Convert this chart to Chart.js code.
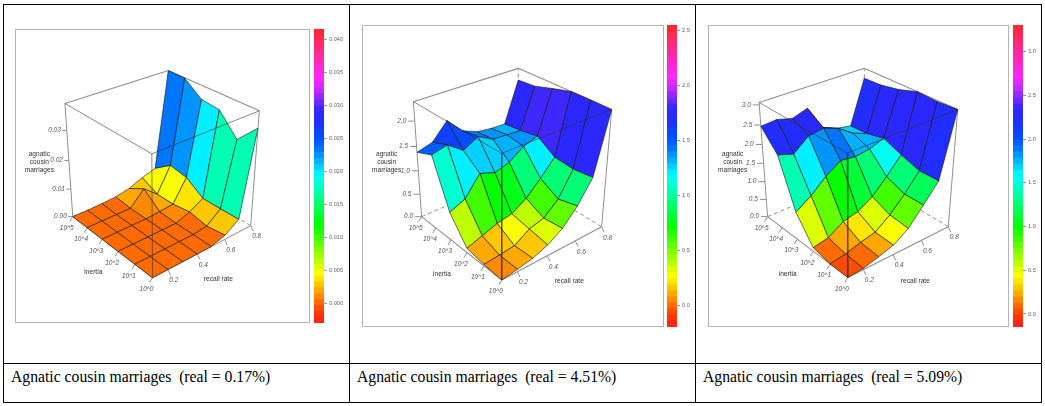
<!DOCTYPE html>
<html>
<head>
<meta charset="utf-8">
<script src="https://cdn.jsdelivr.net/npm/chart.js@4"></script>
<style>
html,body{margin:0;padding:0;background:#fff;width:1045px;height:406px;overflow:hidden}
.line{position:absolute;background:#000}
.cap{position:absolute;top:368px;font:15.7px "Liberation Serif",serif;color:#000;white-space:pre}
.frame{position:absolute;border:1.5px solid #b4b4b4;box-sizing:border-box}
canvas{position:absolute;filter:blur(.35px)}
</style>
</head>
<body>
<script>
const recallRates = [0.1,0.2,0.3,0.4,0.5,0.6,0.7,0.8];
const inertiaLabels = ['10^0','10^1','10^2','10^3','10^4','10^5'];
const recallTicks = [0.2,0.4,0.6,0.8];
const captions = ['Agnatic cousin marriages  (real = 0.17%)','Agnatic cousin marriages  (real = 4.51%)','Agnatic cousin marriages  (real = 5.09%)'];

// rows = recall rate, columns = inertia
const values1 = [
  [0,0,0,0,0,0],
  [0,0,0,0,0,0],
  [0,0,0,0,0,0.0002],
  [0,0,0,0,0,0.0005],
  [0,0,0,0.0003,0.005,0.0015],
  [0.0015,0.0006,0.0018,0.0008,0.0008,0.0035],
  [0.0047,0.0045,0.0045,0.0085,0.0095,0.005],
  [0.0332,0.0265,0.0333,0.034,0.0385,0.0386]
];
const values2 = [
  [0,0.03,0.09,0.59,1.53,1.38],
  [0.05,0.06,0.20,0.73,1.61,1.47],
  [0.11,0.10,0.31,1.12,1.38,1.80],
  [0.23,0.30,0.37,1.01,1.55,1.48],
  [0.42,0.38,0.56,1.10,1.38,1.35],
  [0.74,0.64,0.85,1.31,1.36,1.31],
  [1.18,1.13,1.17,1.41,1.34,1.30],
  [2.36,2.37,2.37,2.27,2.16,2.13]
];
const values3 = [
  [0,0,0.10,0.75,1.98,2.47],
  [0.03,0.07,0.18,1.02,1.85,2.50],
  [0.14,0.19,0.44,1.37,2.17,2.39],
  [0.26,0.28,0.53,1.63,2.23,2.52],
  [0.52,0.57,0.77,1.58,2.08,1.87],
  [0.97,0.96,1.15,1.63,1.81,1.71],
  [1.43,1.42,1.58,1.77,1.66,1.63],
  [3.06,3.03,3.06,2.91,2.82,2.80]
];

const zTicks1 = [0,0.01,0.02,0.03];
const zTicks2 = [0,0.5,1,1.5,2];
const zTicks3 = [0,0.5,1,1.5,2,2.5,3];

const panels = [
  {off:0, frame:[15,29,310,323], bar:[314,29,324,323], range:[-0.0029,0.04156], step:0.005, dec:3, zDec:2, zMax:0.0386, zTicks:zTicks1, values:values1, zTick:4.5, zLab:6,
   corners:{L:[218,650],F:[458,833],R:[752,677],LT:[195,310],FT:[455,462],RT:[778,332],BT:[505,212]},
   titles:{inertia:[280,818],recall:[655,838],z:[118,462]}},
  {off:350, frame:[362,25,664,327], bar:[667,25,677,327], range:[-0.197,2.549], step:0.5, dec:1, zDec:1, zMax:2.37, zTicks:zTicks2, values:values2, zTick:6.5, zLab:8.5,
   corners:{L:[215,650],F:[455,840],R:[755,680],LT:[190,305],FT:[455,460],RT:[785,328],BT:[505,205]},
   titles:{inertia:[276,822],recall:[658,845],z:[110,462]}},
  {off:695, frame:[708,25,1009,327], bar:[1013,25,1023,327], range:[-0.149,3.305], step:0.5, dec:1, zDec:1, zMax:3.06, zTicks:zTicks3, values:values3, zTick:6.5, zLab:8.5,
   corners:{L:[218,650],F:[458,832],R:[760,680],LT:[192,307],FT:[457,460],RT:[788,328],BT:[508,205]},
   titles:{inertia:[278,822],recall:[661,845],z:[113,462]}}
];

const BANDS = 50;
function bandColor(z, range) {
  let t = (z - range[0]) / (range[1] - range[0]);
  let k = Math.min(BANDS - 1, Math.max(0, Math.floor(t * BANDS)));
  let h = (k + 0.5) / BANDS * 360;
  // the palette stays blue for longer than a plain hue wheel
  if (h > 215 && h <= 262) h = 215 + (h - 215) * 30 / 47;
  else if (h > 262 && h < 285) h = 245 + (h - 262) * 40 / 23;
  const f = n => { const a = (n + h / 60) % 6; return 255 * (1 - Math.max(0, Math.min(a, 4 - a, 1))); };
  // blues and reds are not fully saturated
  let lift = 0;
  if (h >= 220) lift = 40 * Math.min(1, (h - 220) / 20);
  else if (h < 15) lift = 30 * (1 - h / 15);
  const ch = n => Math.round(lift + f(n) * (255 - lift) / 255);
  return 'rgb(' + ch(5) + ',' + ch(3) + ',' + ch(1) + ')';
}

// least squares fit of a 3x4 perspective matrix to the box corners
function fitProjection(c) {
  const pairs = [[[0,1,0],c.L],[[0,0,0],c.F],[[1,0,0],c.R],[[0,1,1],c.LT],[[0,0,1],c.FT],[[1,0,1],c.RT],[[1,1,1],c.BT]];
  const A = [], b = [];
  pairs.forEach(([p,q]) => {
    const [u,v,w] = p, [x,y] = q;
    A.push([u,v,w,1,0,0,0,0,-x*u,-x*v,-x*w]); b.push(x);
    A.push([0,0,0,0,u,v,w,1,-y*u,-y*v,-y*w]); b.push(y);
  });
  const n = 11, M = [];
  for (let i = 0; i < n; i++) {
    M.push([]);
    for (let j = 0; j < n; j++) M[i].push(A.reduce((s,r) => s + r[i]*r[j], 0));
    M[i].push(A.reduce((s,r,k) => s + r[i]*b[k], 0));
  }
  for (let i = 0; i < n; i++) {
    let best = i;
    for (let k = i + 1; k < n; k++) if (Math.abs(M[k][i]) > Math.abs(M[best][i])) best = k;
    [M[i], M[best]] = [M[best], M[i]];
    for (let k = 0; k < n; k++) {
      if (k === i) continue;
      const f = M[k][i] / M[i][i];
      for (let j = i; j <= n; j++) M[k][j] -= f * M[i][j];
    }
  }
  return M.map((r,i) => r[n] / r[i]);
}

function el(tag, cls, style) {
  const e = document.createElement(tag);
  if (cls) e.className = cls;
  Object.assign(e.style, style || {});
  document.body.appendChild(e);
  return e;
}

// table rules
[[3,4,1039,1],[3,363,1039,1],[3,402,1039,1],[3,4,1,399],[349,4,1,399],[695,4,1,399],[1041,4,1,399]].forEach(r => {
  el('div','line',{left:r[0]+'px',top:r[1]+'px',width:r[2]+'px',height:r[3]+'px'});
});
[11,357,703].forEach((x,i) => { el('div','cap',{left:x+'px'}).textContent = captions[i]; });

panels.forEach((pn, idx) => {
  const cz = {};
  Object.keys(pn.corners).forEach(k => { cz[k] = [pn.off + pn.corners[k][0]/3, pn.corners[k][1]/3]; });
  const m = fitProjection(cz);
  const P = (u,v,w) => {
    const d = m[8]*u + m[9]*v + m[10]*w + 1;
    return {x:(m[0]*u + m[1]*v + m[2]*w + m[3])/d, y:(m[4]*u + m[5]*v + m[6]*w + m[7])/d};
  };
  const uOf = r => (r - recallRates[0]) / (recallRates[recallRates.length-1] - recallRates[0]);
  const vOf = i => i / (inertiaLabels.length - 1);
  const vals = pn.values;

  const w = pn.frame[2]-pn.frame[0], h = pn.frame[3]-pn.frame[1];
  el('div','frame',{left:pn.frame[0]+'px',top:pn.frame[1]+'px',width:w+'px',height:h+'px'});
  const cv = el('canvas','',{left:pn.frame[0]+'px',top:pn.frame[1]+'px'});
  cv.width = w; cv.height = h;

  const ds = [];
  const seg = (pts, color, width, dash) => ds.push({data:pts, borderColor:color, borderWidth:width||1, borderDash:dash||[], showLine:true, pointRadius:0, fill:false, tension:0});
  const gray = '#8f8f8f';
  const B = P(1,1,0), BT = P(1,1,1), L = P(0,1,0), F = P(0,0,0), R = P(1,0,0), LT = P(0,1,1), FT = P(0,0,1), RT = P(1,0,1);
  // back of the box first
  seg([L,B],gray,1,[4,3]); seg([R,B],gray,1,[4,3]); seg([B,BT],gray,1,[4,3]);
  seg([LT,BT],gray,1.1); seg([BT,RT],gray,1.1);
  seg([L,LT],gray,1); seg([R,RT],gray,1);
  seg([L,F],gray,1.1); seg([F,R],gray,1.1);
  // ticks
  inertiaLabels.forEach((t,i) => { const p = P(0,vOf(i),0); seg([p,{x:p.x-3,y:p.y+5}],gray,1); });
  recallTicks.forEach(r => { const p = P(uOf(r),0,0); seg([p,{x:p.x+2.5,y:p.y+5.5}],gray,1); });
  pn.zTicks.forEach(z => { const p = P(0,1,z/pn.zMax); seg([{x:p.x-pn.zTick,y:p.y},p],gray,1); });
  // surface, far cells first
  for (let r = recallRates.length-2; r >= 0; r--) {
    for (let i = inertiaLabels.length-2; i >= 0; i--) {
      const cell = [[r,i],[r+1,i],[r+1,i+1],[r,i+1],[r,i]];
      const mean = (vals[r][i]+vals[r+1][i]+vals[r+1][i+1]+vals[r][i+1])/4;
      ds.push({
        data: cell.map(c => P(uOf(recallRates[c[0]]), vOf(c[1]), vals[c[0]][c[1]]/pn.zMax)),
        borderColor:'rgba(20,20,20,.75)', borderWidth:0.8,
        backgroundColor:bandColor(mean,pn.range), fill:'shape',
        showLine:true, pointRadius:0, tension:0
      });
    }
  }
  // front of the box over the surface
  const front = 'rgba(40,40,40,.55)';
  seg([LT,FT],front,1); seg([FT,RT],front,1); seg([FT,F],front,1);
  ds.forEach((d,k) => { d.order = ds.length - k; });

  const labels = {
    id:'labels'+idx,
    afterDatasetsDraw(chart) {
      const c = chart.ctx, sx = chart.scales.x, sy = chart.scales.y;
      const text = (s,x,y,font,color,align) => {
        c.font = font; c.fillStyle = color; c.textAlign = align||'center'; c.textBaseline = 'middle';
        c.fillText(s, sx.getPixelForValue(x), sy.getPixelForValue(y));
      };
      const tickFont = 'italic 6.5px "Liberation Sans"', titleFont = '6.6px "Liberation Sans"';
      inertiaLabels.forEach((t,i) => { const p = P(0,vOf(i),0); text(t,p.x-6,p.y+11.5,tickFont,'#555'); });
      recallTicks.forEach(r => { const p = P(uOf(r),0,0); text(r.toFixed(1),p.x+6,p.y+11,tickFont,'#555'); });
      pn.zTicks.forEach(z => { const p = P(0,1,z/pn.zMax); text(z.toFixed(pn.zDec),p.x-pn.zLab,p.y,tickFont,'#555','right'); });
      const t = pn.titles, o = pn.off;
      text('inertia',o+t.inertia[0]/3,t.inertia[1]/3,titleFont,'#333');
      text('recall rate',o+t.recall[0]/3,t.recall[1]/3,titleFont,'#333');
      ['agnatic','cousin','marriages'].forEach((s,k) => text(s,o+t.z[0]/3,t.z[1]/3+k*8,titleFont,'#333'));
    }
  };

  new Chart(cv, {
    type:'scatter',
    data:{datasets:ds},
    plugins:[labels],
    options:{
      responsive:false, animation:false, events:[],
      layout:{padding:0},
      plugins:{legend:{display:false},tooltip:{enabled:false}},
      scales:{
        x:{type:'linear',display:false,min:pn.frame[0],max:pn.frame[2]},
        y:{type:'linear',display:false,min:pn.frame[1],max:pn.frame[3],reverse:true}
      }
    }
  });

  // colour key
  const barW = pn.bar[2]-pn.bar[0], barH = pn.bar[3]-pn.bar[1];
  const kc = el('canvas','',{left:pn.bar[0]+'px',top:(pn.bar[1]-10)+'px'});
  kc.width = barW + 24; kc.height = barH + 20;
  const bands = [];
  for (let k = 0; k < BANDS; k++) {
    const lo = pn.range[0] + (pn.range[1]-pn.range[0])*k/BANDS, hi = pn.range[0] + (pn.range[1]-pn.range[0])*(k+1)/BANDS;
    bands.push({data:[[lo,hi]], backgroundColor:bandColor((lo+hi)/2,pn.range), barPercentage:1, categoryPercentage:1, grouped:false});
  }
  new Chart(kc, {
    type:'bar',
    data:{labels:[''],datasets:bands},
    options:{
      responsive:false, animation:false, events:[],
      layout:{padding:{top:10,bottom:10,left:0,right:0}},
      plugins:{legend:{display:false},tooltip:{enabled:false}},
      scales:{
        x:{display:false},
        y:{position:'right',min:pn.range[0],max:pn.range[1],
           afterFit(s){ s.width = 24; },
           border:{display:false},
           grid:{drawOnChartArea:false,drawTicks:true,tickLength:3,color:'#999'},
           ticks:{stepSize:pn.step,includeBounds:false,padding:2,color:'#666',font:{family:'"Liberation Sans"',size:5.6},callback:v => v.toFixed(pn.dec)}}
      }
    }
  });
});
</script>
</body>
</html>
